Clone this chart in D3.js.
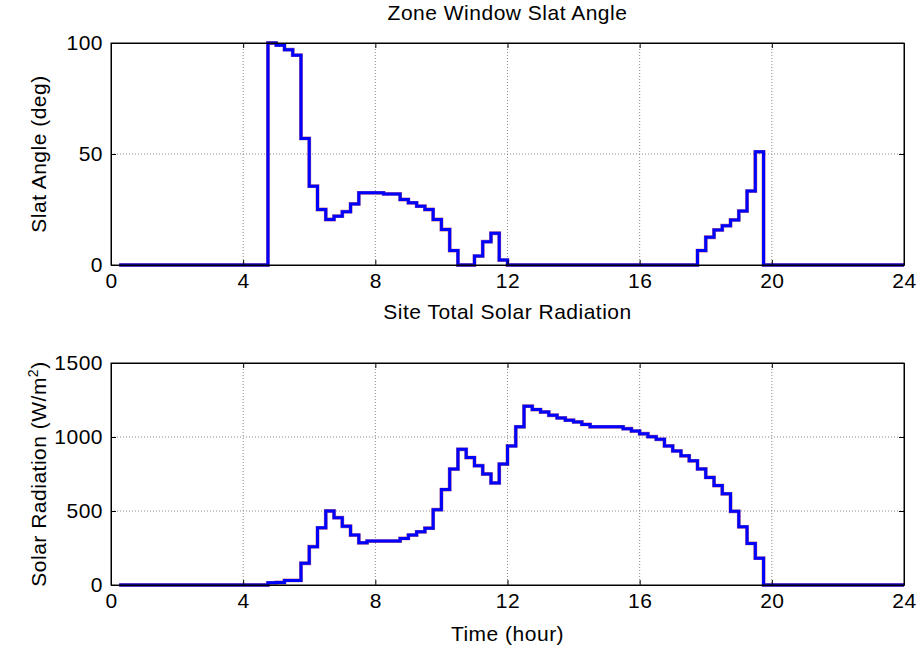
<!DOCTYPE html>
<html>
<head>
<meta charset="utf-8">
<script src="https://cdn.jsdelivr.net/npm/d3@7"></script>
<style>
  html, body { margin: 0; padding: 0; background: #fff; }
  svg { display: block; font-family: "Liberation Sans", Arial, sans-serif; }
</style>
</head>
<body>
<svg id="chart" width="921" height="652"></svg>
<script>
// Simulation time stamps (hour, end of each 15-minute timestep)
const hours = [
  0.25, 0.5, 0.75, 1, 1.25, 1.5, 1.75, 2, 2.25, 2.5, 2.75, 3, 3.25, 3.5, 3.75, 4,
  4.25, 4.5, 4.75, 5, 5.25, 5.5, 5.75, 6, 6.25, 6.5, 6.75, 7, 7.25, 7.5, 7.75, 8,
  8.25, 8.5, 8.75, 9, 9.25, 9.5, 9.75, 10, 10.25, 10.5, 10.75, 11, 11.25, 11.5, 11.75, 12,
  12.25, 12.5, 12.75, 13, 13.25, 13.5, 13.75, 14, 14.25, 14.5, 14.75, 15, 15.25, 15.5, 15.75, 16,
  16.25, 16.5, 16.75, 17, 17.25, 17.5, 17.75, 18, 18.25, 18.5, 18.75, 19, 19.25, 19.5, 19.75, 20,
  20.25, 20.5, 20.75, 21, 21.25, 21.5, 21.75, 22, 22.25, 22.5, 22.75, 23, 23.25, 23.5, 23.75, 24
];

// Zone window slat angle (deg)
const slatAngle = [
  0, 0, 0, 0, 0, 0, 0, 0, 0, 0, 0, 0, 0, 0, 0, 0,
  0, 0, 100, 99, 97, 94.5, 57, 35.5, 25, 20.5, 22, 24, 27.5, 32.5, 32.5, 32.5,
  32, 32, 29.5, 28, 26.5, 25, 20.5, 16, 6.5, 0, 0, 4, 10.5, 14.3, 2.2, 0,
  0, 0, 0, 0, 0, 0, 0, 0, 0, 0, 0, 0, 0, 0, 0, 0,
  0, 0, 0, 0, 0, 0, 6.5, 12.5, 15.8, 17.7, 20.3, 24.3, 33.3, 51, 0, 0,
  0, 0, 0, 0, 0, 0, 0, 0, 0, 0, 0, 0, 0, 0, 0, 0
];

// Site total solar radiation (W/m2)
const solarRadiation = [
  0, 0, 0, 0, 0, 0, 0, 0, 0, 0, 0, 0, 0, 0, 0, 0,
  0, 0, 15, 17, 31, 31, 147, 259, 386, 500, 455, 397, 337, 285, 297, 297,
  297, 297, 315, 337, 359, 384, 509, 645, 783, 917, 861, 806, 750, 690, 817, 940,
  1069, 1208, 1185, 1169, 1147, 1129, 1114, 1102, 1085, 1069, 1069, 1069, 1069, 1056, 1040, 1022,
  1002, 984, 940, 906, 873, 839, 784, 727, 672, 616, 498, 393, 281, 181, 0, 0,
  0, 0, 0, 0, 0, 0, 0, 0, 0, 0, 0, 0, 0, 0, 0, 0
];

const hourTicks = [0, 4, 8, 12, 16, 20, 24];
const slatTicks = [0, 50, 100];
const solarTicks = [0, 500, 1000, 1500];

const FONT = 21;
const SPACING = "0.5px";

const svg = d3.select("#chart");
const left = 111, right = 904;

const x = d3.scaleLinear().domain([0, 24]).range([left, right]);

function styleText(sel) {
  return sel.attr("font-size", FONT).attr("letter-spacing", SPACING)
    .attr("font-family", "Liberation Sans, Arial, sans-serif").attr("fill", "#000");
}

function drawPanel(cfg) {
  const { top, bottom, yDomain, yTicks, values, title, titleY } = cfg;
  const y = d3.scaleLinear().domain(yDomain).range([bottom, top]);
  const g = svg.append("g");

  // dotted grid
  g.append("g").selectAll("line")
    .data(hourTicks.slice(1, -1)).join("line")
    .attr("x1", d => x(d)).attr("x2", d => x(d))
    .attr("y1", top).attr("y2", bottom)
    .attr("stroke", "#8a8a8a").attr("stroke-width", 1)
    .attr("stroke-dasharray", "1,2");
  g.append("g").selectAll("line")
    .data(yTicks.slice(1, -1)).join("line")
    .attr("x1", left).attr("x2", right)
    .attr("y1", d => y(d)).attr("y2", d => y(d))
    .attr("stroke", "#8a8a8a").attr("stroke-width", 1)
    .attr("stroke-dasharray", "1,2");

  // data line (stairs)
  const line = d3.line()
    .x((d, i) => x(hours[i]))
    .y(d => y(d))
    .curve(d3.curveStepAfter);
  g.append("path").datum(values)
    .attr("fill", "none").attr("stroke", "#8b0030").attr("stroke-opacity", 0.55)
    .attr("stroke-width", 3.8).attr("d", line);
  g.append("path").datum(values)
    .attr("fill", "none").attr("stroke", "#0000ff")
    .attr("stroke-width", 3).attr("d", line);

  // axes with inward ticks on all sides
  const fmt = d3.format("d");
  const bottomAxis = d3.axisBottom(x).tickValues(hourTicks).tickSizeInner(-5).tickSizeOuter(0).tickPadding(8).tickFormat(fmt);
  const topAxis = d3.axisTop(x).tickValues(hourTicks).tickSizeInner(-5).tickSizeOuter(0).tickFormat("");
  const leftAxis = d3.axisLeft(y).tickValues(yTicks).tickSizeInner(-5).tickSizeOuter(0).tickPadding(8).tickFormat(fmt);
  const rightAxis = d3.axisRight(y).tickValues(yTicks).tickSizeInner(-5).tickSizeOuter(0).tickFormat("");

  const ax = [
    g.append("g").attr("transform", `translate(0,${bottom})`).call(bottomAxis),
    g.append("g").attr("transform", `translate(0,${top})`).call(topAxis),
    g.append("g").attr("transform", `translate(${left},0)`).call(leftAxis),
    g.append("g").attr("transform", `translate(${right},0)`).call(rightAxis)
  ];
  ax.forEach(a => {
    a.select(".domain").attr("stroke", "#000").attr("stroke-width", 1);
    a.selectAll(".tick line").attr("stroke", "#000");
    styleText(a.selectAll(".tick text"));
  });

  // box outline
  g.append("rect")
    .attr("x", left).attr("y", top)
    .attr("width", right - left).attr("height", bottom - top)
    .attr("fill", "none").attr("stroke", "#000").attr("stroke-width", 1);

  // title
  styleText(g.append("text"))
    .attr("x", (left + right) / 2).attr("y", titleY)
    .attr("text-anchor", "middle")
    .text(title);

  return { g, y };
}

drawPanel({
  top: 43, bottom: 265, yDomain: [0, 100], yTicks: slatTicks,
  values: slatAngle, title: "Zone Window Slat Angle", titleY: 20
});
drawPanel({
  top: 363, bottom: 585, yDomain: [0, 1500], yTicks: solarTicks,
  values: solarRadiation, title: "Site Total Solar Radiation", titleY: 319
});

// y-axis labels
styleText(svg.append("text"))
  .attr("transform", `translate(46,${(43 + 265) / 2}) rotate(-90)`)
  .attr("text-anchor", "middle")
  .text("Slat Angle (deg)");

const ylab2 = styleText(svg.append("text"))
  .attr("transform", `translate(46,${(363 + 585) / 2}) rotate(-90)`)
  .attr("text-anchor", "middle");
ylab2.append("tspan").text("Solar Radiation (W/m");
ylab2.append("tspan").attr("font-size", 14).attr("dy", -8).text("2");
ylab2.append("tspan").attr("dy", 8).text(")");

// x-axis label
styleText(svg.append("text"))
  .attr("x", (left + right) / 2).attr("y", 641)
  .attr("text-anchor", "middle")
  .text("Time (hour)");
</script>
</body>
</html>
